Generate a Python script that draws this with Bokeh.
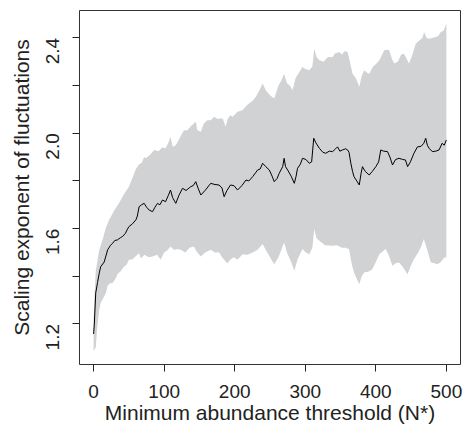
from bokeh.plotting import figure
from bokeh.models import FixedTicker, Range1d, PrintfTickFormatter
from bokeh.embed import file_html
from bokeh.resources import INLINE
import math

# ---- data ----
mean_x = [0, 1, 3, 5.6, 8, 10, 15, 20, 24, 27, 30, 34, 38, 41, 45, 48, 50, 55, 60, 62,
          64.5, 68, 71.6, 75, 78.7, 83.5, 87, 90.6, 94, 97.6, 102, 106, 109, 112, 116.5,
          121, 126, 131, 137.7, 141, 144.8, 148, 152, 158, 166, 172, 177.8, 182, 185, 189,
          194, 199, 204, 210, 216, 220, 225.5, 232.5, 236, 239.6, 244, 249, 253, 256, 260,
          263, 268, 270, 272, 275, 280, 284.5, 287, 289, 293, 296, 301, 305.7, 309, 312,
          315, 320, 325, 329, 334, 338.7, 343, 345.7, 349, 352.8, 357, 360, 362, 364.6,
          367, 369, 373, 376.5, 379, 381, 385, 390.6, 395, 400, 404, 407, 411, 416.5, 420,
          423.6, 428, 433, 438, 442, 445, 449, 454, 459, 464, 468, 470.7, 473, 475.5, 480,
          485, 489.6, 494, 497, 500]
mean_y = [1.158, 1.20, 1.33, 1.374, 1.413, 1.44, 1.46, 1.512, 1.53, 1.539, 1.55, 1.553,
          1.562, 1.567, 1.58, 1.598, 1.608, 1.62, 1.637, 1.653, 1.692, 1.70, 1.706, 1.69,
          1.678, 1.671, 1.69, 1.706, 1.70, 1.72, 1.713, 1.74, 1.762, 1.73, 1.706, 1.74,
          1.769, 1.76, 1.776, 1.78, 1.797, 1.77, 1.741, 1.76, 1.79, 1.785, 1.783, 1.77,
          1.734, 1.76, 1.783, 1.78, 1.762, 1.78, 1.804, 1.80, 1.818, 1.846, 1.85, 1.874,
          1.86, 1.846, 1.82, 1.797, 1.81, 1.832, 1.86, 1.895, 1.86, 1.846, 1.82, 1.79,
          1.82, 1.853, 1.87, 1.895, 1.89, 1.874, 1.88, 1.979, 1.96, 1.937, 1.92, 1.916,
          1.925, 1.923, 1.935, 1.943, 1.925, 1.93, 1.935, 1.93, 1.92, 1.874, 1.84, 1.818,
          1.80, 1.783, 1.83, 1.86, 1.84, 1.825, 1.84, 1.86, 1.88, 1.93, 1.925, 1.923, 1.90,
          1.867, 1.89, 1.895, 1.89, 1.888, 1.86, 1.88, 1.916, 1.943, 1.945, 1.958, 1.979,
          1.95, 1.937, 1.923, 1.925, 1.93, 1.958, 1.95, 1.972]

upper_x = [0, 1, 3, 5.6, 8, 12.7, 17, 22, 24.5, 30, 36, 42, 50, 56, 60, 64.5, 68, 71.6, 74,
           80, 86, 92, 97, 102, 106, 109, 112, 116.5, 122, 128, 133, 138, 142, 145, 147,
           152, 156, 161, 166, 171, 176, 180, 183, 187, 190, 194, 197, 204, 211, 218, 225,
           230, 235, 239.6, 244, 250, 256, 262, 266, 270, 274, 278, 282, 286, 290, 296,
           300, 305.7, 310, 312.7, 316, 320, 326, 332, 338.7, 342, 348, 352, 356, 360, 364,
           367, 372, 376.5, 380, 383.5, 387, 390.6, 396, 400, 405, 409, 412, 416, 419, 423,
           426, 431, 436, 440, 444, 447, 452, 456.5, 462, 466, 468.4, 472, 475.5, 480, 485,
           489, 492, 496, 500]
upper_y = [1.22, 1.30, 1.42, 1.469, 1.51, 1.553, 1.60, 1.637, 1.65, 1.68, 1.706, 1.74,
           1.776, 1.82, 1.85, 1.87, 1.875, 1.90, 1.895, 1.91, 1.93, 1.925, 1.94, 1.937,
           1.96, 1.985, 1.943, 1.95, 1.98, 2.013, 2.013, 2.03, 2.041, 2.048, 2.013, 2.006,
           2.04, 2.055, 2.055, 2.069, 2.06, 2.062, 2.062, 2.027, 2.06, 2.076, 2.069, 2.09,
           2.097, 2.12, 2.135, 2.153, 2.18, 2.209, 2.18, 2.16, 2.146, 2.20, 2.22, 2.25,
           2.21, 2.20, 2.18, 2.23, 2.25, 2.278, 2.27, 2.264, 2.28, 2.355, 2.32, 2.306, 2.30,
           2.32, 2.32, 2.335, 2.341, 2.33, 2.345, 2.341, 2.29, 2.25, 2.23, 2.195, 2.24,
           2.264, 2.255, 2.25, 2.28, 2.29, 2.306, 2.33, 2.348, 2.35, 2.348, 2.31, 2.293,
           2.30, 2.33, 2.334, 2.31, 2.293, 2.33, 2.376, 2.39, 2.40, 2.425, 2.40, 2.397,
           2.40, 2.404, 2.41, 2.425, 2.43, 2.46]

lower_x = [0, 1, 3, 5, 8, 10.3, 14, 17.4, 19.8, 23, 27, 31, 34, 38, 43, 47, 50, 55, 60,
           64.5, 67, 72, 78, 83.5, 90, 95, 100, 105, 109, 114, 118, 123.6, 130, 136, 142,
           147, 152, 158, 166, 172, 178, 182, 185, 189.6, 194, 199, 204, 211, 218, 225.5,
           232, 239.6, 244, 250, 256, 262, 266, 270, 274, 280, 284.5, 289, 296, 301, 305.7,
           310, 312.7, 316, 320, 328, 338.7, 345, 352, 357, 362, 366, 369, 373, 376.5, 380,
           383.5, 390, 395, 400, 405, 410, 414, 418, 423.6, 428, 433, 438, 445, 449, 454,
           460, 465, 468, 472, 478, 483, 487.6, 492, 497, 500]
lower_y = [1.085, 1.093, 1.10, 1.18, 1.26, 1.29, 1.31, 1.33, 1.36, 1.37, 1.372, 1.39,
           1.41, 1.42, 1.44, 1.45, 1.469, 1.47, 1.485, 1.497, 1.475, 1.49, 1.48, 1.483,
           1.49, 1.469, 1.50, 1.51, 1.525, 1.51, 1.515, 1.511, 1.50, 1.52, 1.525, 1.50,
           1.483, 1.50, 1.511, 1.50, 1.50, 1.48, 1.469, 1.455, 1.47, 1.48, 1.469, 1.493,
           1.49, 1.50, 1.51, 1.535, 1.51, 1.48, 1.451, 1.48, 1.51, 1.542, 1.50, 1.46,
           1.423, 1.47, 1.514, 1.50, 1.493, 1.52, 1.598, 1.56, 1.549, 1.53, 1.528, 1.53,
           1.52, 1.52, 1.514, 1.45, 1.416, 1.39, 1.367, 1.40, 1.416, 1.42, 1.43, 1.46,
           1.493, 1.505, 1.514, 1.49, 1.444, 1.455, 1.458, 1.44, 1.409, 1.44, 1.472, 1.50,
           1.53, 1.556, 1.52, 1.458, 1.455, 1.451, 1.46, 1.479, 1.48]

x_ticks = [0, 100, 200, 300, 400, 500]
y_ticks = [1.2, 1.6, 2.0, 2.4]
y_minor_ticks = [1.4, 1.8, 2.2]
x_title = "Minimum abundance threshold (N*)"
y_title = "Scaling exponent of fluctuations"

FONT = "Liberation Sans"
TXT = "#222222"

p = figure(width=463, height=432, output_backend="svg", toolbar_location=None,
           x_range=Range1d(-20, 520), y_range=Range1d(1.03, 2.515),
           min_border_left=79, min_border_right=3, min_border_top=10, min_border_bottom=68)

p.grid.visible = False
p.background_fill_color = "white"
p.border_fill_color = "white"
p.outline_line_color = "#333333"
p.outline_line_width = 1

# band
band_x = list(upper_x) + list(reversed(lower_x))
band_y = list(upper_y) + list(reversed(lower_y))
p.patch(band_x, band_y, fill_color="#D1D2D4", line_color=None)

# mean line
p.line(mean_x, mean_y, line_color="black", line_width=1)

# axes
xa = p.xaxis[0]
xa.ticker = FixedTicker(ticks=x_ticks)
xa.axis_line_color = None
xa.major_tick_line_color = TXT
xa.major_tick_out = 7
xa.major_tick_in = 0
xa.minor_tick_line_color = None
xa.major_label_text_font = FONT
xa.major_label_text_font_size = "19px"
xa.major_label_text_color = TXT
xa.major_label_standoff = 13
xa.axis_label = x_title
xa.axis_label_text_font = FONT
xa.axis_label_text_font_size = "21px"
xa.axis_label_text_font_style = "normal"
xa.axis_label_text_color = TXT
xa.axis_label_standoff = 0

ya = p.yaxis[0]
ya.ticker = FixedTicker(ticks=y_ticks, minor_ticks=y_minor_ticks)
ya.formatter = PrintfTickFormatter(format="%.1f")
ya.axis_line_color = None
ya.major_tick_line_color = TXT
ya.minor_tick_line_color = TXT
ya.major_tick_out = 7
ya.major_tick_in = 0
ya.minor_tick_out = 7
ya.minor_tick_in = 0
ya.major_label_orientation = math.pi / 2
ya.major_label_text_font = FONT
ya.major_label_text_font_size = "19px"
ya.major_label_text_color = TXT
ya.major_label_standoff = 20
ya.axis_label = y_title
ya.axis_label_text_font = FONT
ya.axis_label_text_font_size = "21px"
ya.axis_label_text_font_style = "normal"
ya.axis_label_text_color = TXT
ya.axis_label_standoff = 4

open("out.html", "w").write(file_html(p, INLINE))
